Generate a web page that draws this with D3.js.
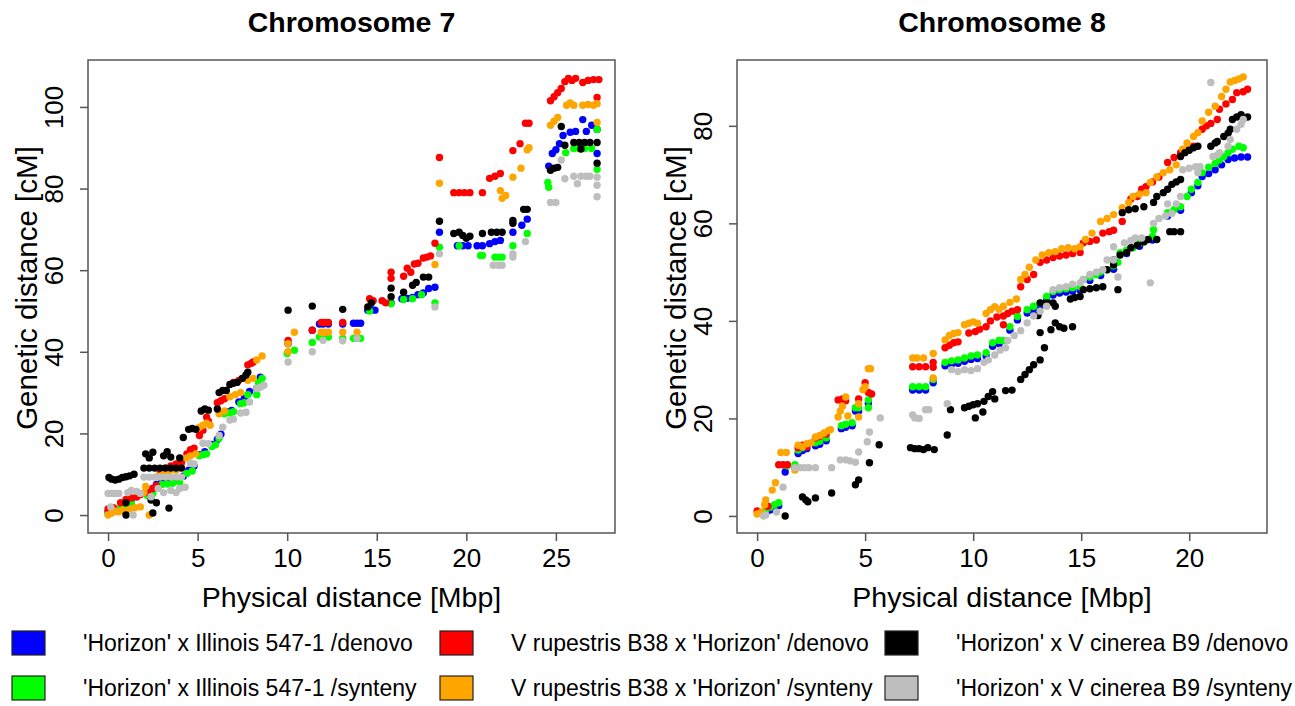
<!DOCTYPE html>
<meta charset="utf-8">
<style>
  body { margin: 0; background: #fff; }
  svg text { font-family: "Liberation Sans", Arial, sans-serif; fill: #000; }
</style>
<svg width="1295" height="706"></svg>
<script src="https://cdn.jsdelivr.net/npm/d3@7"></script>
<script>
// ---- data: [physical distance Mbp, genetic distance cM] ----
var chr7Blue = [[0,0.8],[0.3,1.2],[0.9,2.5],[1.3,3.5],[2.2,5.5],[2.5,6.5],[2.7,7.5],[3.0,8.2],[3.4,8.3],[3.8,8.5],[4.2,9.5],[4.5,11],[4.8,12],[5.1,14.8],[5.4,15.5],[5.8,17.3],[6.1,18.5],[6.3,19.8],[6.6,25.3],[6.9,25.6],[7.3,27.7],[7.6,28.5],[7.9,30.3],[8.3,31],[8.5,33.8],[10.05,42],[11.4,45.3],[11.8,46.8],[12.0,46.8],[12.3,46.8],[13.1,46.8],[13.7,47],[13.9,47],[14.1,47],[14.5,50.2],[14.7,50.3],[14.9,50.2],[15.8,52],[16.4,53],[16.7,53.1],[17.0,53.3],[17.3,54],[17.6,54.4],[17.9,55.5],[18.25,55.8],[18.5,69.3],[19.5,66],[19.8,66],[20.1,66],[20.6,66],[20.9,66],[21.3,66.5],[21.6,67],[21.9,67.3],[22.6,69.3],[23.1,71],[23.4,72.5],[24.6,85.5],[24.8,88.6],[25.0,89.5],[25.2,91],[25.4,93],[25.8,93.8],[26.1,94],[26.5,96.9],[26.7,94],[27.0,95.5],[27.3,94.5],[27.3,88.6]];
var chr7Green = [[0,0.3],[0.3,0.8],[0.6,1.5],[0.9,2.0],[1.3,3.0],[2.2,4.8],[2.5,5.2],[2.7,7.0],[3.0,7.5],[3.3,7.6],[3.6,7.8],[4.0,8.0],[4.4,10.2],[4.7,10.8],[5.1,14.5],[5.3,14.8],[5.5,15.0],[5.8,16.8],[6.0,17.2],[6.2,18.8],[6.5,24.8],[6.8,25.0],[7.0,25.3],[7.4,27.3],[7.6,27.5],[7.8,29.5],[8.3,29.5],[8.4,32.5],[8.6,33.5],[10.0,39.6],[10.4,40.4],[11.4,42.3],[11.8,43.6],[12.0,43.6],[12.3,43.6],[13.1,43.3],[13.7,43.3],[13.9,43.3],[14.1,43.3],[14.6,50],[15.8,51.8],[16.5,52.8],[17.0,53],[17.5,54],[18.25,52],[18.5,65.6],[19.6,66],[20.8,63.6],[20.9,63.6],[21.6,63.2],[21.8,63.2],[22.0,63.2],[22.6,66],[23.4,69],[24.55,81.5],[24.6,80.3],[25.55,88.8],[26.0,89.8],[26.3,89.8],[26.6,89.8],[27.0,89.8],[27.3,94.5],[27.3,84.7]];
var chr7Red = [[0,1.5],[0.3,1.8],[0.7,3],[1.0,3.8],[1.3,4.2],[1.6,4.4],[1.8,5.0],[2.2,5.5],[2.5,6.5],[2.7,7.2],[2.9,11],[3.2,11.5],[3.5,12],[3.8,12.5],[4.1,12.8],[4.4,15],[4.6,16],[4.8,16.4],[5.1,19.5],[5.3,20.8],[5.5,24],[5.6,23],[6.1,27.5],[6.3,28],[6.5,28.5],[7.0,32.5],[7.3,33],[7.5,33.5],[7.8,36.8],[8.0,37.2],[8.1,37.5],[10.05,42.8],[11.4,45.3],[11.9,47.2],[12.1,47.2],[12.3,47.2],[13.1,47.2],[14.6,53],[14.8,52.5],[15.3,52.5],[15.5,52],[15.8,58],[15.8,59.5],[16.5,58.5],[16.7,60.5],[16.9,59.5],[17.1,61.5],[17.3,61.7],[17.6,63],[17.8,63.2],[18.0,63.5],[18.25,66.6],[18.5,87.6],[19.3,79],[19.6,79],[19.9,79],[20.2,79],[20.9,79],[21.3,82.5],[21.6,83],[21.9,83.7],[22.6,89.3],[23.0,91],[23.3,96],[23.5,96],[24.7,101.5],[24.9,102.5],[25.1,103.5],[25.3,104.5],[25.5,106.2],[25.7,107],[25.9,106.5],[26.1,107],[26.5,106],[26.8,106.5],[27.1,106.7],[27.4,106.7],[27.3,102.3]];
var chr7Orange = [[0,0],[0.2,0.5],[0.4,1.0],[0.6,0.8],[0.8,1.2],[1.2,1.5],[1.5,1.8],[1.8,2.0],[2.0,5.5],[2.1,7.0],[2.3,0],[2.8,9.5],[3.1,10],[3.4,10.5],[3.8,11],[4.4,14],[4.6,14.5],[4.9,15],[5.1,21.5],[5.3,22],[5.5,22.5],[5.7,22],[6.2,24.8],[6.5,25.5],[6.8,29],[7.1,29.5],[7.4,30],[7.8,33],[8.1,33.5],[8.3,38],[8.6,39],[10.05,40],[10.05,42],[10.4,44.8],[11.9,44.8],[12.1,44.8],[12.3,44.8],[13.1,44.8],[13.9,44.8],[18.25,61.4],[18.5,81.3],[21.9,79.5],[22.0,77.6],[22.2,78.3],[22.6,82.8],[23.05,85],[23.4,89.5],[23.5,90],[24.7,95.5],[24.9,96.5],[25.1,97.4],[25.6,100.4],[25.8,101],[26.0,100.4],[26.5,100.4],[26.8,100.6],[27.1,100.4],[27.3,100.8],[27.3,96.2]];
var chr7Black = [[0.05,9.2],[0.2,8.8],[0.4,8.6],[0.6,8.8],[0.8,9.2],[1.0,9.4],[1.2,9.6],[1.45,10],[1.0,0],[1.0,3],[2.1,15],[2.3,14],[2.5,15.4],[2.0,11.5],[2.3,11.5],[2.6,11.5],[2.9,11.5],[3.2,11.5],[3.5,11.5],[3.8,11.5],[4.1,11.5],[3.1,14.5],[3.3,15.5],[3.5,14.2],[2.4,3.7],[2.5,0.5],[2.7,3],[3.4,1.7],[4.0,14],[4.2,19],[4.5,21],[4.7,21.2],[4.9,21],[5.2,25.5],[5.4,26],[5.6,25.7],[6.1,26],[6.2,30],[6.4,30.5],[6.6,30.5],[6.8,32],[7.0,32.3],[7.2,32.5],[7.5,33.5],[7.7,34.3],[7.8,35],[10.05,50.2],[11.4,51.2],[13.1,50.4],[14.5,51],[14.7,52],[15.8,53.5],[15.8,55.6],[16.5,54.6],[17.0,56.3],[17.2,57],[17.6,58.3],[17.9,58.3],[18.5,72],[19.3,69],[19.6,69.3],[19.8,68.5],[20.0,67.8],[20.2,68.3],[20.9,69],[21.4,69.3],[21.7,69.3],[22.0,69.3],[22.6,71.5],[22.6,72.2],[23.2,74.9],[23.4,74.9],[24.7,84.5],[24.9,85],[25.1,85.2],[25.3,95.2],[25.5,90.6],[26.0,91.3],[26.3,91.3],[26.4,89.7],[26.6,91.3],[26.9,91.3],[27.3,91.3],[27.3,86.2]];
var chr7Gray = [[0,5.3],[0.2,5.3],[0.4,5.3],[0.6,5.3],[0.15,2],[1.4,0],[1.1,5.5],[1.3,6],[1.6,5.8],[1.8,5.3],[2.0,9.3],[2.3,9.3],[2.6,9.3],[2.9,9.3],[3.2,9.3],[3.5,9.3],[3.8,9.3],[4.1,9.3],[2.4,4.5],[2.8,6.5],[3.1,5.5],[3.5,6],[3.8,5.5],[4.0,6.5],[4.3,6.8],[4.6,12.7],[4.8,12.5],[5.3,17.6],[5.6,17.5],[6.2,19.5],[6.4,21.5],[6.8,23.3],[7.0,23.5],[7.4,25],[7.7,25.2],[7.9,27.7],[8.3,31],[8.5,31.3],[8.7,31.8],[10.05,37.5],[11.4,40],[12.0,42.8],[13.1,42.7],[13.9,43.3],[18.25,51],[18.5,64],[21.5,61.2],[21.8,61.2],[22.0,61.2],[22.6,63.2],[22.6,64],[23.3,67],[24.7,76.6],[25.0,76.6],[25.3,87],[25.5,82.4],[26.0,83],[26.2,81.2],[26.4,83],[26.7,83],[26.9,83],[27.3,80.8],[27.3,82.8],[27.3,78]];

var chr8Blue = [[0.4,0.6],[0.6,1.2],[0.8,1.7],[1.0,2.1],[1.3,9],[1.75,9.9],[1.9,12.8],[2.1,13.4],[2.3,13.8],[2.7,14.4],[2.9,14.7],[3.2,15.4],[3.9,17.9],[4.1,18.2],[4.4,18.5],[4.55,21.5],[4.7,21.5],[5.15,23.1],[7.2,25.8],[7.5,25.8],[7.8,25.8],[8.15,27.3],[8.7,30.8],[9.0,31.1],[9.3,31.3],[9.6,31.7],[9.9,32.1],[10.2,32.3],[10.6,32.8],[10.9,34.8],[11.2,35.3],[11.7,38.1],[12.05,40.2],[12.5,41.6],[12.8,42.3],[13.1,43],[13.4,44.3],[13.7,45.3],[14.0,45.7],[14.3,45.9],[14.6,46.1],[14.95,46.3],[15.4,48.3],[15.9,49.3],[16.5,50.6],[17.1,53.8],[17.7,55.3],[18.3,56.6],[19.0,61.5],[19.6,62.7],[20.1,66.3],[20.4,67.7],[20.6,69.6],[20.9,70.2],[21.2,71],[21.5,72],[21.8,73.1],[22.1,73.4],[22.4,73.6],[22.7,73.6]];
var chr8Green = [[0.4,1.2],[0.6,1.8],[0.8,2.3],[1.0,2.7],[1.4,10.3],[1.75,10.5],[1.9,13.5],[2.1,14],[2.3,14.5],[2.7,15],[2.9,15.3],[3.2,16],[3.9,18.5],[4.1,18.8],[4.4,19.1],[4.55,22.2],[4.7,22.2],[5.15,23.8],[5.15,22.2],[7.2,26.5],[7.5,26.5],[7.8,26.5],[8.15,28],[8.7,31.5],[9.0,31.8],[9.3,32],[9.6,32.4],[9.9,32.8],[10.2,33],[10.6,33.5],[10.9,35.5],[11.2,36],[11.4,36],[11.7,38.8],[12.05,40.9],[12.5,42.3],[12.8,43],[13.1,43.7],[13.4,45],[13.7,46],[14.0,46.4],[14.3,46.6],[14.6,46.8],[14.95,47],[15.1,48.5],[15.4,49],[15.7,49.5],[15.9,50],[16.2,50.5],[16.5,51.3],[16.7,52],[16.8,54],[17.1,54.5],[17.4,55],[17.7,56],[18.0,56.6],[18.3,57.3],[18.35,58.7],[19.0,62.2],[19.3,62.8],[19.6,63.4],[19.9,65.5],[20.1,67],[20.4,68.4],[20.6,70.4],[20.9,71.5],[21.2,72.3],[21.4,73],[21.6,73.7],[21.8,74.5],[22.0,75.2],[22.3,75.8],[22.5,75.5]];
var chr8Red = [[0,1],[0.5,2],[1.0,10.5],[1.2,10.5],[1.4,10.5],[1.9,14],[2.1,14.5],[2.3,14.2],[2.7,16],[2.9,16.3],[3.2,16.8],[3.75,23.8],[3.95,24],[4.1,23.6],[4.7,24],[5.0,27.3],[5.15,25.3],[5.3,25],[7.2,30.6],[7.5,30.6],[7.8,30.6],[8.15,31.5],[8.15,30.5],[8.7,34.5],[8.9,35],[9.1,35.5],[9.3,35.7],[9.8,37.5],[10.1,37.8],[10.3,38.3],[10.6,38.8],[10.8,40],[11.1,40.8],[11.4,39.2],[11.4,41],[11.6,41.5],[11.8,42],[12.05,42.3],[12.2,47],[12.5,48.5],[12.8,49.5],[13.1,52],[13.4,52.5],[13.7,53],[14.0,53.3],[14.3,53.5],[14.6,53.8],[14.95,54],[15.1,56],[15.4,56.3],[15.7,56.6],[16.0,58],[16.3,58.3],[16.5,58.6],[16.9,60.4],[17.3,65],[17.6,65.5],[17.8,67],[18.0,67.5],[18.3,68.5],[18.6,69.5],[19.0,72.5],[19.3,73.5],[19.6,74.5],[19.9,75],[20.2,75.8],[20.6,79.3],[20.8,80],[21.0,80.5],[21.3,81.3],[21.4,83.4],[21.7,84.5],[22.0,85.4],[22.2,86.8],[22.5,87],[22.7,87.5]];
var chr8Orange = [[0,0.4],[0.2,0.8],[0.35,2.3],[0.4,3.3],[0.7,5.3],[0.85,6.8],[1.1,13],[1.35,13],[1.75,9.4],[1.9,14.5],[2.1,14.2],[2.3,14.8],[2.5,15],[2.7,16.2],[2.9,16.5],[3.1,17],[3.3,17.5],[3.4,17.7],[3.75,20.3],[3.85,21.5],[3.95,22.5],[4.1,24.4],[4.2,20.5],[4.7,20.3],[4.7,23],[4.9,25.9],[5.0,26.5],[5.15,30.2],[5.25,30.2],[7.2,32.4],[7.4,32.4],[7.7,32.4],[8.15,33.3],[8.15,28.3],[8.7,36.1],[8.9,37],[9.1,37.4],[9.3,37.6],[9.6,39.2],[9.8,39.5],[10.0,39.8],[10.2,39.5],[10.6,41.5],[10.8,42.3],[11.0,42.9],[11.2,42.4],[11.4,43],[11.7,43.8],[12.0,44.5],[12.2,48.5],[12.4,49.5],[12.6,51],[12.9,52.5],[13.2,53.5],[13.5,54],[13.8,54.2],[14.1,54.8],[14.4,55],[14.7,54.8],[14.95,55.2],[15.2,56.7],[15.5,58],[15.9,60.4],[16.2,61],[16.5,61.8],[16.9,63.2],[17.2,64.3],[17.4,65.5],[17.7,66],[18.0,66.3],[18.2,68.4],[18.5,69.5],[18.8,70.4],[19.1,71],[19.4,72],[19.7,75.2],[19.9,76.5],[20.2,77.8],[20.4,78.6],[20.6,81],[20.9,82.8],[21.2,84],[21.5,86],[21.7,87.5],[21.9,89],[22.1,89.3],[22.3,89.6],[22.5,90]];
var chr8Black = [[1.3,0],[2.1,3.9],[2.25,3.3],[2.35,2.9],[2.7,3.7],[3.45,4.7],[4.55,6.4],[4.7,7.4],[5.2,10.9],[5.65,14.6],[7.1,14],[7.3,13.8],[7.5,13.8],[7.7,13.6],[7.9,14],[8.2,13.6],[8.8,16.6],[8.95,21.8],[9.6,22.2],[9.8,22.5],[10.0,22.8],[10.1,20.1],[10.2,23],[10.45,21.3],[10.5,23.5],[10.7,24.5],[10.9,25.5],[11.0,24],[11.5,25.7],[11.8,25.8],[12.2,28],[12.4,29],[12.6,30],[12.8,31],[13.1,32],[13.1,37.6],[13.3,34.5],[13.6,38.2],[13.8,39.6],[14.0,38.8],[14.2,38.5],[14.6,38.8],[13.0,41.1],[13.1,43.7],[13.4,43.7],[13.7,43.7],[13.8,43],[14.5,44.5],[14.7,44.8],[14.95,45],[15.1,46.4],[15.4,46.6],[15.7,46.8],[16.0,47],[16.7,46.4],[16.2,50.5],[16.5,51.5],[16.5,52.5],[16.8,53.5],[17.1,54],[17.3,55],[17.6,55.5],[17.9,56.2],[18.1,56.7],[18.5,56.7],[19.1,58.3],[19.3,58.3],[19.6,58.3],[16.9,62.2],[17.2,62.8],[17.5,63],[17.9,63.4],[18.35,64.3],[18.5,65.5],[18.8,66.3],[19.0,67],[19.2,68],[19.4,68.5],[19.6,69],[19.6,73.7],[19.8,74.5],[20.0,75],[20.2,75.5],[20.4,75.8],[21.0,75.8],[21.2,76.5],[21.3,76.8],[21.6,77.8],[21.8,78.5],[21.9,79.3],[22.0,81.3],[22.2,81.8],[22.4,82.3],[22.7,81.8]];
var chr8Gray = [[0.3,0],[0.4,0.2],[0.9,0.8],[1.2,5.9],[1.75,9.9],[2.0,9.9],[2.2,9.9],[2.4,9.9],[2.7,9.9],[3.45,9.9],[3.85,11.5],[4.1,11.5],[4.3,11.3],[4.55,11],[4.7,13.1],[5.1,15.2],[5.2,17.2],[5.7,20.1],[7.2,20.7],[7.3,20.1],[7.5,20],[7.8,21.8],[7.95,21.8],[8.8,23],[9.0,30],[9.3,29.6],[9.6,30],[9.9,29.8],[10.2,30.2],[10.5,31.5],[10.7,32],[11.0,33],[11.25,34],[11.5,34.5],[11.6,36],[11.9,37],[12.2,38],[12.5,39.6],[12.8,41],[13.1,42],[13.4,43],[13.7,46.4],[14.0,46.8],[14.3,47],[14.6,47.5],[14.95,47.8],[15.1,48.5],[15.4,49.5],[15.7,50],[16.0,50.5],[16.2,52.5],[16.5,52.5],[16.5,55.2],[16.7,49],[17.0,56],[17.3,56.5],[17.5,57],[17.8,57],[18.2,47.8],[18.35,60],[18.6,61],[18.9,61.5],[19.2,62],[19.0,64],[19.4,64],[19.6,65.5],[19.7,71],[20.0,71.3],[20.3,71.6],[20.4,70.4],[20.5,71.6],[21.0,88.9],[21.1,73.7],[21.3,74],[21.4,74.5],[21.8,75.8],[21.9,77.2],[22.2,79.3],[22.4,80.3],[22.5,81.3]];

var seriesNames = ["'Horizon' x Illinois 547-1 /denovo", "'Horizon' x Illinois 547-1 /synteny",
                   "V rupestris B38 x 'Horizon' /denovo", "V rupestris B38 x 'Horizon' /synteny",
                   "'Horizon' x V cinerea B9 /denovo", "'Horizon' x V cinerea B9 /synteny"];
var seriesColors = ["#0000ff", "#00ff00", "#ff0000", "#ffa500", "#000000", "#bebebe"];

var chr7XTicks = [0, 5, 10, 15, 20, 25], chr7YTicks = [0, 20, 40, 60, 80, 100];
var chr8XTicks = [0, 5, 10, 15, 20], chr8YTicks = [0, 20, 40, 60, 80];

var svg = d3.select("svg");

function panel(o) {
  var x = d3.scaleLinear().domain(o.xdom).range([o.left, o.right]);
  var y = d3.scaleLinear().domain(o.ydom).range([o.bottom, o.top]);
  var g = svg.append("g");

  // points
  o.series.forEach(function(s, i) {
    g.append("g").selectAll("circle")
      .data(s)
    .enter().append("circle")
      .attr("cx", function(d) { return x(d[0]); })
      .attr("cy", function(d) { return y(d[1]); })
      .attr("r", 3.7)
      .attr("fill", seriesColors[i]);
  });

  // box
  g.append("rect")
    .attr("x", o.left).attr("y", o.top)
    .attr("width", o.right - o.left).attr("height", o.bottom - o.top)
    .attr("fill", "none").attr("stroke", "#555").attr("stroke-width", 1.5);

  var xa = g.append("g")
    .attr("transform", "translate(0," + o.bottom + ")")
    .call(d3.axisBottom(x).tickValues(o.xticks).tickSize(8).tickSizeOuter(0));
  xa.select(".domain").remove();
  xa.selectAll("line").attr("stroke", "#555").attr("stroke-width", 1.5);
  xa.selectAll("text").attr("y", 34).attr("dy", 0)
    .style("font-size", "26px").style("font-family", "Liberation Sans, Arial, sans-serif");

  var ya = g.append("g")
    .attr("transform", "translate(" + o.left + ",0)")
    .call(d3.axisLeft(y).tickValues(o.yticks).tickSize(8).tickSizeOuter(0));
  ya.select(".domain").remove();
  ya.selectAll("line").attr("stroke", "#555").attr("stroke-width", 1.5);
  ya.selectAll("text")
    .attr("transform", "rotate(-90)")
    .attr("x", 0).attr("y", -25).attr("dy", 0)
    .attr("text-anchor", "middle")
    .style("font-size", "26px").style("font-family", "Liberation Sans, Arial, sans-serif");

  svg.append("text")
    .attr("x", (o.left + o.right) / 2).attr("y", 32)
    .attr("text-anchor", "middle")
    .style("font-size", "28.5px").style("font-weight", "bold")
    .text(o.title);

  svg.append("text")
    .attr("x", (o.left + o.right) / 2).attr("y", 607)
    .attr("text-anchor", "middle")
    .style("font-size", "28.5px")
    .text("Physical distance [Mbp]");

  svg.append("text")
    .attr("transform", "translate(" + (o.left - 51) + ",288) rotate(-90)")
    .attr("text-anchor", "middle")
    .style("font-size", "29.5px")
    .text("Genetic distance [cM]");
}

panel({
  title: "Chromosome 7", left: 88, right: 615, top: 60, bottom: 533,
  xdom: [-1.12, 28.3], ydom: [-4.4, 111.5],
  xticks: chr7XTicks, yticks: chr7YTicks,
  series: [chr7Blue, chr7Green, chr7Red, chr7Orange, chr7Black, chr7Gray]
});

panel({
  title: "Chromosome 8", left: 737, right: 1267, top: 60, bottom: 533,
  xdom: [-0.93, 23.6], ydom: [-3.5, 93.5],
  xticks: chr8XTicks, yticks: chr8YTicks,
  series: [chr8Blue, chr8Green, chr8Red, chr8Orange, chr8Black, chr8Gray]
});

// legend: 3 columns x 2 rows
var legX = [12, 440, 885], legY = [631, 676];
var leg = svg.append("g");
seriesNames.forEach(function(name, i) {
  var cx = legX[Math.floor(i / 2)], cy = legY[i % 2];
  leg.append("rect")
    .attr("x", cx).attr("y", cy).attr("width", 33).attr("height", 24)
    .attr("fill", seriesColors[i]).attr("stroke", "#222").attr("stroke-width", 1.2);
  leg.append("text")
    .attr("x", cx + 71).attr("y", cy + 20)
    .style("font-size", "23px")
    .text(name);
});
</script>
